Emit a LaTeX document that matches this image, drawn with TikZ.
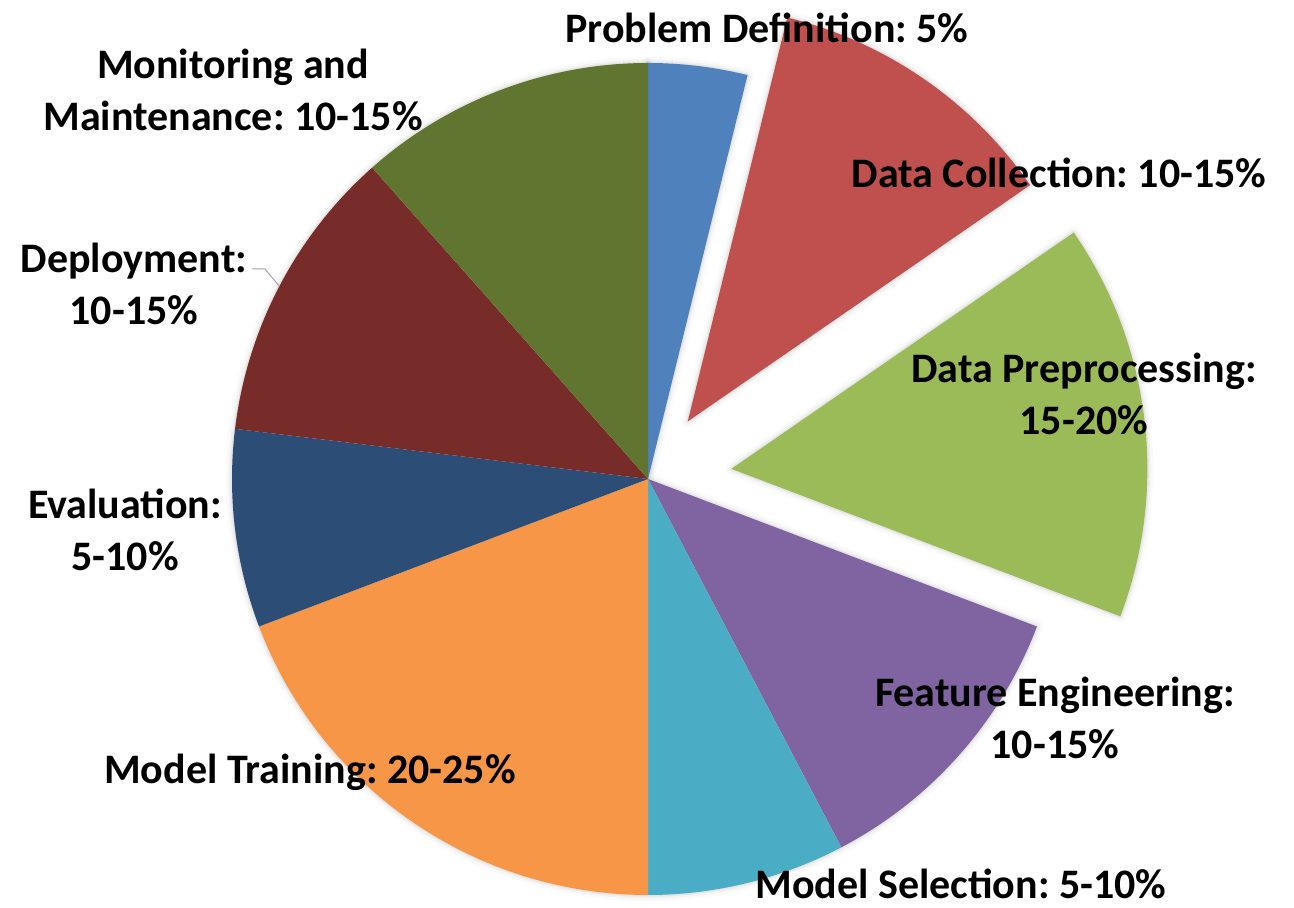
\documentclass[tikz,border=0pt]{standalone}
\usepackage{fontspec}
\setmainfont{Carlito}
\frenchspacing
\definecolor{pdblue}{HTML}{4F81BD}
\definecolor{dcred}{HTML}{C0504D}
\definecolor{dpgreen}{HTML}{9BBB59}
\definecolor{fepurple}{HTML}{8064A2}
\definecolor{mscyan}{HTML}{4BACC6}
\definecolor{mtorange}{HTML}{F79646}
\definecolor{evnavy}{HTML}{2C4D75}
\definecolor{deplred}{HTML}{772C2A}
\definecolor{mmolive}{HTML}{5F7530}
\begin{document}
\begin{tikzpicture}[x=1pt,y=1pt,
  lbl/.style={font=\bfseries\fontsize{42}{52}\selectfont, align=center, inner sep=0pt},
  halo/.style={draw=black, line join=round}]
\useasboundingbox (0,0) rectangle (1294,908);
\fill[white] (0,0) rectangle (1294,908);
\coordinate (O) at (648,429);
\def\R{416}

% soft shadow first, then the slices
\foreach \w/\op in {12/0.02, 7/0.03, 3/0.05}
  \foreach \a/\b/\s in {90/76.154/0, 76.154/34.615/70, 34.615/-20.769/84, -20.769/-270/0}{
    \pgfmathsetmacro\m{(\a+\b)/2}
    \draw[halo, line width=\w, opacity=\op] (O) ++(\m:\s) -- ++(\a:\R) arc (\a:\b:\R) -- cycle;
  }
\foreach \a/\b/\c/\s in {90/76.154/pdblue/0, 76.154/34.615/dcred/70, 34.615/-20.769/dpgreen/84,
  -20.769/-62.308/fepurple/0, -62.308/-90/mscyan/0, -90/-159.231/mtorange/0,
  -159.231/-186.923/evnavy/0, -186.923/-228.462/deplred/0, -228.462/-270/mmolive/0}{
  \pgfmathsetmacro\m{(\a+\b)/2}
  \fill[\c] (O) ++(\m:\s) -- ++(\a:\R) arc (\a:\b:\R) -- cycle;
}

\node[lbl] (pd) at (767,880) {Problem Definition: 5\%};
\node[lbl] (dc) at (1059,735) {Data Collection: 10-15\%};
\node[lbl] (dp) at (1084,514) {Data Preprocessing:\\15-20\%};
\node[lbl] (fe) at (1055,190) {Feature Engineering:\\10-15\%};
\node[lbl] (ms) at (961,24) {Model Selection: 5-10\%};
\node[lbl] (mt) at (310,136) {Model Training: 20-25\%};
\node[lbl] (ev) at (125,378) {Evaluation:\\5-10\%};
\node[lbl] (de) at (134,624) {Deployment:\\10-15\%};
\node[lbl] (mm) at (233,818) {Monitoring and\\Maintenance: 10-15\%};

% leader for Deployment
\coordinate (deleft) at (252,639);
\path (O) ++(152.4:\R) coordinate (detip);
\draw[gray!70, line width=1pt] (deleft) -- ++(13,0) -- (detip);
\end{tikzpicture}
\end{document}
